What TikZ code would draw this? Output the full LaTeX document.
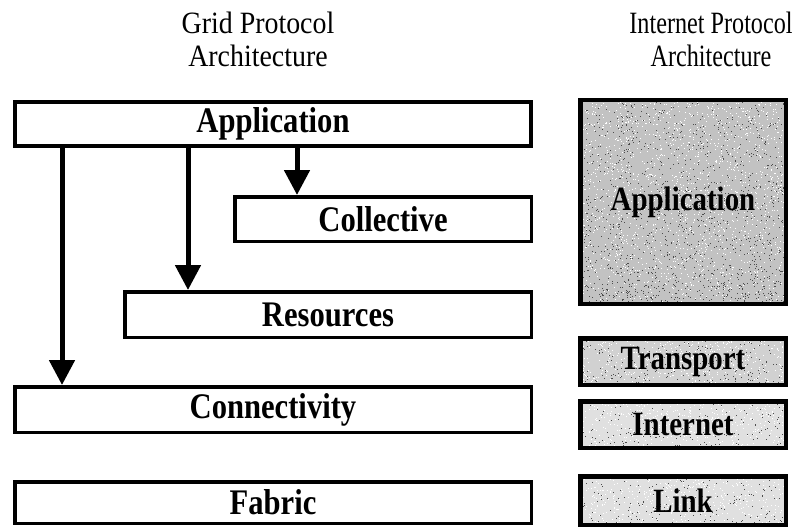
\documentclass[tikz,border=0pt]{standalone}
\usepackage{fontspec}
\setmainfont{Liberation Serif}
\newfontfamily\titlefont[FakeStretch=0.9]{Liberation Serif}
\newfontfamily\narrowtitlefont[FakeStretch=0.78]{Liberation Serif}
\newfontfamily\layerfont[FakeStretch=0.85]{Liberation Serif}
\usetikzlibrary{arrows.meta,calc}

\begin{document}
\begin{tikzpicture}[x=1pt,y=-1pt,
  title/.style={align=center,font=\titlefont\fontsize{31}{33}\selectfont},
  gridbox/.style={draw,line width=3.5pt,inner sep=0pt,
    font=\layerfont\bfseries\fontsize{36}{36}\selectfont},
  % stippled grey fill: #1 dark specks, #2 light specks
  speckle/.style 2 args={path picture={
    \foreach \k in {1,...,#1}{
      \fill[black!70] let \p1=(path picture bounding box.south west),
        \p2=(path picture bounding box.north east) in
        ({\x1+rnd*(\x2-\x1)},{\y1+(rnd^1.4)*(\y2-\y1)}) rectangle ++(1pt,1pt);
    }
    \foreach \k in {1,...,#2}{
      \fill[white] let \p1=(path picture bounding box.south west),
        \p2=(path picture bounding box.north east) in
        ({\x1+rnd*(\x2-\x1)},{\y1+(rnd^0.8)*(\y2-\y1)}) rectangle ++(1pt,1pt);
    }}},
  ipbox/.style={draw,line width=4.5pt,inner sep=0pt,minimum width=205.5pt,
    font=\layerfont\bfseries\fontsize{34}{34}\selectfont},
  arr/.style={line width=5pt,-{Triangle[width=25pt,length=25pt]}},
]
\pgfmathsetseed{4217}
\useasboundingbox (0,0) rectangle (793,527);

% column headings
\node[title] (gtitle) at (258,39) {Grid Protocol\\Architecture};
\node[title,font=\narrowtitlefont\fontsize{31}{33}\selectfont] (ititle) at (711,39)
  {Internet Protocol\\Architecture};

% grid protocol layers
\node[gridbox,minimum width=516pt,minimum height=44pt]   (gapp)  at (273,124)   {Application};
\node[gridbox,minimum width=296.5pt,minimum height=44.5pt] (gcoll) at (383,219)   {Collective};
\node[gridbox,minimum width=406.5pt,minimum height=45.5pt] (gres)  at (328,314.5) {Resources};
\node[gridbox,minimum width=516.5pt,minimum height=45.5pt] (gconn) at (273,409.5) {Connectivity};
\node[gridbox,minimum width=516.5pt,minimum height=41.5pt] (gfab)  at (273,502.5) {Fabric};

% internet protocol layers
\node[ipbox,fill=black!24,speckle={1400}{1600},minimum height=203.5pt] (iapp)  at (683,202)   {Application};
\node[ipbox,fill=black!18,speckle={250}{450},minimum height=46.5pt]    (itrn)  at (683,361.5) {Transport};
\node[ipbox,fill=black!12,speckle={200}{400},minimum height=46.5pt]    (iint)  at (683,424.5) {Internet};
\node[ipbox,fill=black!12,speckle={200}{400},minimum height=48.5pt]    (ilink) at (683,500.5) {Link};

% application reaches down to lower layers
\coordinate (c1) at (62,0);
\coordinate (c2) at (188,0);
\coordinate (c3) at (297,0);
\draw[arr] (gapp.south -| c1) -- (gconn.north -| c1);
\draw[arr] (gapp.south -| c2) -- (gres.north -| c2);
\draw[arr] (gapp.south -| c3) -- (gcoll.north -| c3);
\end{tikzpicture}
\end{document}
